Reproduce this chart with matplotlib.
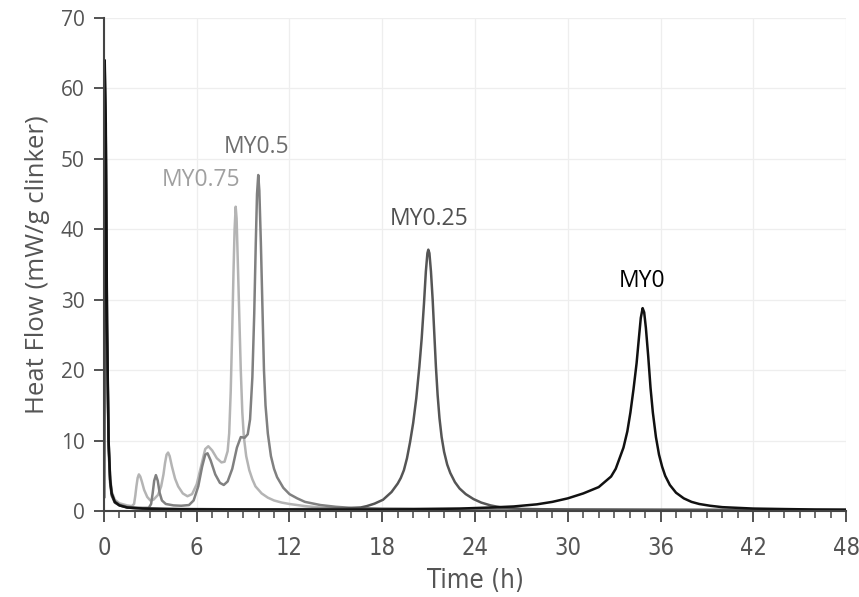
import matplotlib
matplotlib.use('Agg')
import matplotlib.pyplot as plt
from matplotlib.ticker import MultipleLocator

# heat flow curves (time in h, heat flow in mW/g clinker)
t_my075 = [0.0, 0.05, 0.12, 0.2, 0.3, 0.4, 0.5, 0.7, 1.0, 1.5, 1.8, 1.95, 2.03, 2.1, 2.18, 2.26, 2.35,
           2.45, 2.6, 2.8, 3.0, 3.2, 3.5, 3.7, 3.85, 3.95, 4.05, 4.15, 4.25, 4.4, 4.6, 4.8, 5.1, 5.4,
           5.7, 6.0, 6.3, 6.55, 6.75, 7.0, 7.3, 7.6, 7.8, 8.0, 8.1, 8.2, 8.3, 8.38, 8.45, 8.52, 8.58,
           8.65, 8.75, 8.85, 8.95, 9.05, 9.2, 9.4, 9.6, 9.8, 10.2, 10.6, 11.0, 11.5, 12.0, 13, 14, 16,
           18, 20, 24, 30, 36, 42, 48]
v_my075 = [2, 58, 50, 25, 10, 5, 2.8, 1.6, 1.1, 0.8, 0.7, 1.0, 2.2, 3.5, 4.7, 5.2, 4.9,
           4.2, 3.0, 2.0, 1.5, 1.6, 2.3, 3.5, 5.2, 6.8, 8.0, 8.3, 7.8, 6.3, 4.6, 3.5, 2.5, 2.1,
           2.4, 3.8, 6.5, 8.8, 9.2, 8.6, 7.5, 6.9, 7.0, 8.5, 11, 17, 26, 34, 40, 43.2, 41.5,
           36, 28, 20, 14, 10.5, 7.8, 5.8, 4.5, 3.5, 2.5, 1.9, 1.5, 1.2, 1.0, 0.7, 0.5, 0.35,
           0.25, 0.2, 0.15, 0.12, 0.1, 0.1, 0.08]

t_my05 = [0.0, 0.05, 0.12, 0.2, 0.3, 0.4, 0.5, 0.7, 1.0, 1.5, 2.0, 2.5, 2.9, 3.05, 3.15, 3.25, 3.36,
          3.48, 3.6, 3.75, 4.0, 4.5, 5.0, 5.5, 5.8, 6.1, 6.35, 6.55, 6.7, 6.9, 7.2, 7.5, 7.75, 8.0,
          8.3, 8.6, 8.85, 9.1, 9.3, 9.45, 9.6, 9.72, 9.82, 9.9, 9.98, 10.05, 10.15, 10.25, 10.35,
          10.45, 10.6, 10.8, 11.0, 11.2, 11.6, 12.0, 12.5, 13, 14, 15, 16, 18, 22, 26, 30, 36, 42, 48]
v_my05 = [2, 61, 52, 26, 10, 4.5, 2.5, 1.4, 0.9, 0.6, 0.5, 0.45, 0.45, 1.0, 2.5, 4.3, 5.1,
          4.3, 2.6, 1.5, 1.0, 0.8, 0.75, 0.85, 1.5, 3.5, 6.3, 8.0, 8.2, 7.2, 5.2, 4.0, 3.7, 4.2,
          6.0, 9.0, 10.5, 10.4, 10.9, 13, 19, 28, 38, 45, 47.7, 45.5, 38, 29, 20,
          15, 11, 7.8, 6.0, 4.8, 3.3, 2.4, 1.8, 1.3, 0.85, 0.6, 0.45, 0.35, 0.3, 0.25, 0.22, 0.2, 0.18, 0.15]

t_my025 = [0.0, 0.05, 0.12, 0.2, 0.3, 0.4, 0.5, 0.7, 1.0, 1.5, 2, 4, 8, 12, 14, 15.5, 16.6, 17.0,
           17.5, 18.05, 18.6, 19.0, 19.2, 19.4, 19.6, 19.8, 20.0, 20.2, 20.4, 20.55, 20.7, 20.82,
           20.92, 20.98, 21.05, 21.15, 21.26, 21.37, 21.47, 21.58, 21.7, 21.84, 22.0, 22.2, 22.4,
           22.7, 23.0, 23.4, 23.9, 24.4, 25.0, 25.6, 27, 30, 36, 42, 48]
v_my025 = [2, 63, 53, 25, 9, 4, 2.2, 1.2, 0.8, 0.5, 0.4, 0.3, 0.25, 0.25, 0.3, 0.35, 0.5, 0.7,
           1.05, 1.6, 2.7, 3.9, 4.7, 5.8, 7.5, 9.8, 12.5, 16, 20.5, 24.5, 29.5, 34,
           36.6, 37.1, 36.6, 34, 30, 25, 20.5, 16.5, 13.2, 10.5, 8.4, 6.6, 5.4,
           4.1, 3.2, 2.4, 1.7, 1.2, 0.8, 0.55, 0.3, 0.2, 0.15, 0.12, 0.1]

t_my0 = [0.0, 0.05, 0.12, 0.2, 0.3, 0.4, 0.5, 0.7, 1.0, 1.5, 2.5, 5, 10, 15, 20, 23, 25, 26.5, 28,
         29, 30, 31, 32, 32.8, 33.1, 33.35, 33.6, 33.85, 34.05, 34.25, 34.45, 34.6, 34.72, 34.84,
         34.94, 35.05, 35.2, 35.35, 35.5, 35.7, 35.9, 36.1, 36.3, 36.6, 37.0, 37.5, 38.0, 38.5,
         39.2, 40, 42, 44, 46, 48]
v_my0 = [2, 64, 55, 27, 10, 4.5, 2.5, 1.3, 0.8, 0.5, 0.35, 0.25, 0.2, 0.2, 0.25, 0.35, 0.5, 0.65, 0.95,
         1.3, 1.8, 2.5, 3.4, 4.9, 6.0, 7.5, 9.0, 11.3, 14.0, 17.3, 21.0, 24.6, 27.4, 28.8,
         28.2, 26, 22, 17.5, 14, 10.5, 8.0, 6.3, 5.0, 3.7, 2.6, 1.8, 1.3, 1.0,
         0.75, 0.55, 0.35, 0.28, 0.22, 0.2]

names = ['MY0.75', 'MY0.5', 'MY0.25', 'MY0']
line_colors = ['#b4b4b4', '#808080', '#555555', '#111111']
text_colors = ['#a0a0a0', '#6e6e6e', '#505050', '#000000']
label_pos = [(6.3, 45.3), (9.9, 50.0), (21.0, 39.8), (34.8, 31.0)]

fig, ax = plt.subplots(figsize=(8.59, 5.97), dpi=100)
fig.subplots_adjust(left=0.121, right=0.985, bottom=0.144, top=0.970)

series = [(t_my075, v_my075), (t_my05, v_my05), (t_my025, v_my025), (t_my0, v_my0)]
for (t, v), c in zip(series, line_colors):
    ax.plot(t, v, color=c, lw=1.8, solid_joinstyle='round')

for name, c, (x, y) in zip(names, text_colors, label_pos):
    ax.text(x, y, name, color=c, fontsize=16.5, family='Open Sans', ha='center', va='bottom')

ax.set_xlim(0, 48)
ax.set_ylim(0, 70)
ax.xaxis.set_major_locator(MultipleLocator(6))
ax.xaxis.set_minor_locator(MultipleLocator(1))
ax.yaxis.set_major_locator(MultipleLocator(10))
ax.grid(True, which='major', color='#eeeeee', lw=0.9)
ax.set_axisbelow(True)

for s in ['top', 'right']:
    ax.spines[s].set_visible(False)
for s in ['left', 'bottom']:
    ax.spines[s].set_color('#444444')
    ax.spines[s].set_linewidth(1.5)

ax.tick_params(axis='x', which='major', direction='out', length=8, width=1.3, color='#444444',
               labelsize=17, labelcolor='#555555', pad=10)
ax.tick_params(axis='x', which='minor', direction='out', length=5, width=1.1, color='#444444')
ax.tick_params(axis='y', which='major', direction='out', length=7, width=1.3, color='#444444',
               labelsize=15, labelcolor='#555555', pad=7)
for lab in ax.get_xticklabels():
    lab.set_family('DejaVu Sans')
    lab.set_stretch('condensed')
for lab in ax.get_yticklabels():
    lab.set_family('Open Sans')

ax.set_xlabel('Time (h)', fontsize=18.5, color='#555555', family='DejaVu Sans', stretch='condensed',
              labelpad=6)
ax.set_ylabel('Heat Flow (mW/g clinker)', fontsize=18.5, color='#555555', family='Open Sans', labelpad=8)

plt.savefig('out.png', dpi=100)
plt.close()
